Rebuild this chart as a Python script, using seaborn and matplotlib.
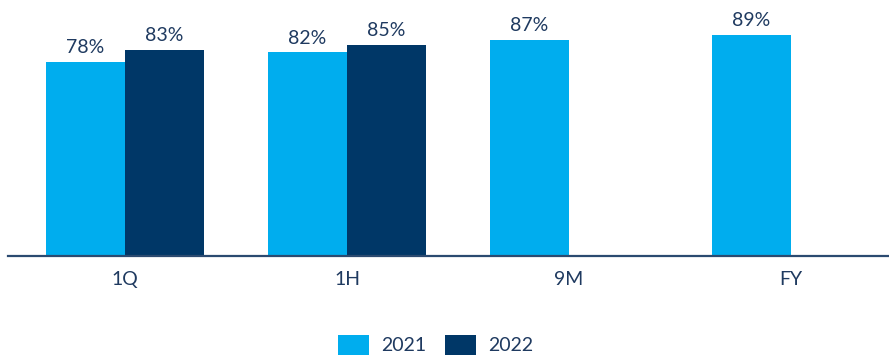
import matplotlib
matplotlib.use("Agg")
import matplotlib.pyplot as plt
from matplotlib.patches import Patch
import seaborn as sns
import pandas as pd

periods = ["1Q", "1H", "9M", "FY"]
years = ["2021", "2022"]
values_2021 = [78, 82, 87, 89]
values_2022 = [83, 85]

rows = [(p, "2021", v) for p, v in zip(periods, values_2021)]
rows += [(p, "2022", v) for p, v in zip(periods, values_2022)]
df = pd.DataFrame(rows, columns=["period", "year", "value"])

light_blue = "#00ADEE"
navy = "#003767"
text_color = "#1F3A60"
palette = {"2021": light_blue, "2022": navy}

sns.set_theme(style="white")
plt.rcParams["font.family"] = ["Lato", "DejaVu Sans"]

fig = plt.figure(figsize=(8.89, 3.57), dpi=100)
ax = fig.add_axes([8 / 889, 1 - 256 / 357, 1 - 8 / 889, (256 - 7.3) / 357])

sns.barplot(data=df, x="period", y="value", hue="year", order=periods,
            hue_order=years, palette=palette, width=0.712, gap=0,
            saturation=1, legend=False, linewidth=0, edgecolor="none", ax=ax)

for container in ax.containers:
    ax.bar_label(container, fmt="%.0f%%", padding=4, fontsize=14,
                 color=text_color)

ax.set_ylim(0, 100)
ax.set_xlim(-0.527, 3.441)
ax.set_xlabel("")
ax.set_ylabel("")
ax.set_yticks([])
ax.tick_params(axis="x", length=0, pad=11, labelsize=14, labelcolor=text_color)
for side in ["top", "left", "right"]:
    ax.spines[side].set_visible(False)
ax.spines["bottom"].set_color("#2B4A70")
ax.spines["bottom"].set_linewidth(1.6)

handles = [Patch(facecolor=palette[y], edgecolor="none", label=y) for y in years]
fig.legend(handles=handles, loc="center", bbox_to_anchor=(0.49, 0.034),
           ncol=2, frameon=False, fontsize=14, handlelength=1.6,
           handleheight=1.15, handletextpad=0.6, columnspacing=1.0,
           labelcolor=text_color)

fig.savefig("out.png", dpi=100)
